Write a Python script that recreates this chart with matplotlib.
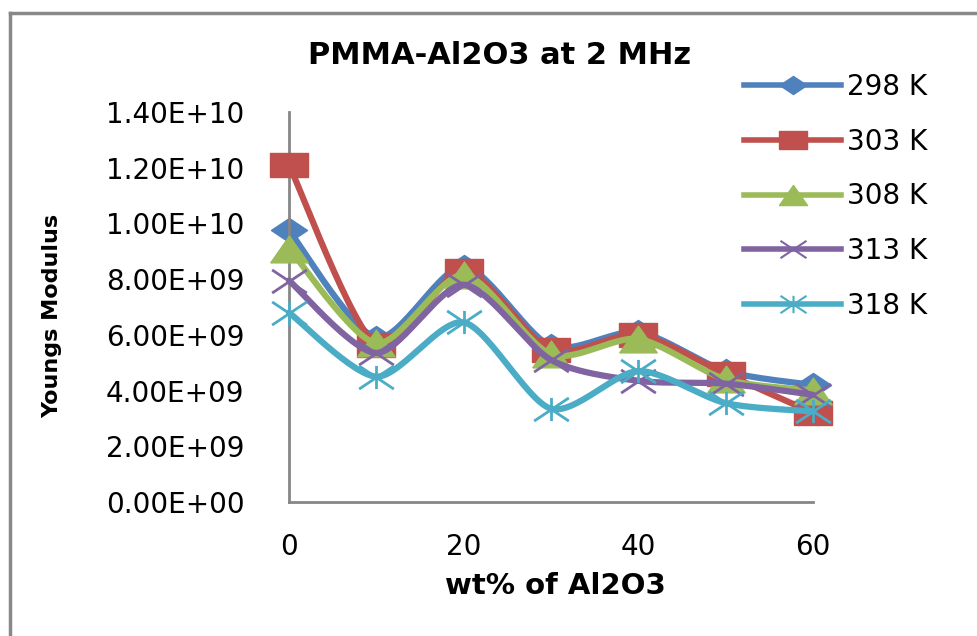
import numpy as np
import matplotlib
matplotlib.use('Agg')
import matplotlib.pyplot as plt
from matplotlib.lines import Line2D
from matplotlib.path import Path

# dados
wt = [0, 10, 20, 30, 40, 50, 60]
series_names = ['298 K', '303 K', '308 K', '313 K', '318 K']
y298 = [9.75e9, 5.9e9, 8.45e9, 5.6e9, 6.1e9, 4.7e9, 4.2e9]
y303 = [12.1e9, 5.65e9, 8.3e9, 5.45e9, 6.0e9, 4.6e9, 3.2e9]
y308 = [9.1e9, 5.7e9, 8.15e9, 5.3e9, 5.85e9, 4.4e9, 4.0e9]
y313 = [7.95e9, 5.35e9, 7.8e9, 5.1e9, 4.35e9, 4.25e9, 3.85e9]
y318 = [6.8e9, 4.5e9, 6.45e9, 3.35e9, 4.7e9, 3.55e9, 3.25e9]
yticks = [0, 2e9, 4e9, 6e9, 8e9, 1e10, 1.2e10, 1.4e10]
ytick_labels = ['0.00E+00', '2.00E+09', '4.00E+09', '6.00E+09', '8.00E+09',
                '1.00E+10', '1.20E+10', '1.40E+10']
xticks = [0, 20, 40, 60]

cores = ['#4F81BD', '#C0504D', '#9BBB59', '#8064A2', '#4BACC6']

# marcadores "esticados" como no Excel
M, L = Path.MOVETO, Path.LINETO
losango = [(-1.5, 0), (0, 1), (1.5, 0), (0, -1), (-1.5, 0)]
quadrado = [(-1.6, -1), (1.6, -1), (1.6, 1), (-1.6, 1), (-1.6, -1)]
triangulo = [(-1.4, -1), (1.4, -1), (0, 1), (-1.4, -1)]
xis = Path([(-1.5, -1), (1.5, 1), (-1.5, 1), (1.5, -1)], [M, L, M, L])
estrela = Path([(-1.5, -1), (1.5, 1), (-1.5, 1), (1.5, -1), (0, -1), (0, 1)],
               [M, L, M, L, M, L])
marcadores = [losango, quadrado, triangulo, xis, estrela]
tamanhos = [26, 27, 27, 25, 25]


def suavizar(x, y, n=30, k=7.5):
    # curva suave estilo Excel (bezier com pontos de controle catmull-rom)
    x = np.asarray(x, float)
    y = np.asarray(y, float)
    px = np.concatenate([[x[0]], x, [x[-1]]])
    py = np.concatenate([[y[0]], y, [y[-1]]])
    xs, ys = [], []
    t = np.linspace(0, 1, n)
    for i in range(1, len(px) - 2):
        p0 = np.array([px[i], py[i]])
        p3 = np.array([px[i + 1], py[i + 1]])
        p1 = p0 + (p3 - np.array([px[i - 1], py[i - 1]])) / k
        p2 = p3 - (np.array([px[i + 2], py[i + 2]]) - p0) / k
        b = ((1 - t) ** 3)[:, None] * p0 + (3 * (1 - t) ** 2 * t)[:, None] * p1 \
            + (3 * (1 - t) * t ** 2)[:, None] * p2 + (t ** 3)[:, None] * p3
        xs.extend(b[:, 0])
        ys.extend(b[:, 1])
    return xs, ys


fig = plt.figure(figsize=(9.77, 6.36), dpi=100)
ax = fig.add_axes([289 / 977, 1 - 502 / 636, (813 - 289) / 977, (502 - 112) / 636])

todos = [y298, y303, y308, y313, y318]
handles = []
for i, ys in enumerate(todos):
    sx, sy = suavizar(wt, ys)
    ax.plot(sx, sy, color=cores[i], lw=4.5, solid_capstyle='round', zorder=2 + i,
            clip_on=False)
    linha = i >= 3
    mew = 2.0 if linha else 1
    mfc = 'none' if linha else cores[i]
    ax.plot(wt, ys, ls='none', marker=marcadores[i], ms=tamanhos[i],
            mfc=mfc, mec=cores[i], mew=mew, zorder=2 + i, clip_on=False)
    handles.append(Line2D([], [], color=cores[i], lw=4, marker=marcadores[i],
                          ms=tamanhos[i] * 0.75, mfc=mfc, mec=cores[i],
                          mew=1.5 if linha else 1))

ax.set_xlim(0, 60)
ax.set_ylim(0, 1.4e10)
ax.set_xticks(xticks)
ax.set_xticklabels([str(v) for v in xticks], fontsize=20)
ax.set_yticks(yticks)
ax.set_yticklabels(ytick_labels, fontsize=20)
ax.tick_params(length=0)
ax.tick_params(axis='y', pad=32)
ax.tick_params(axis='x', pad=22)
for s in ['top', 'right']:
    ax.spines[s].set_visible(False)
for s in ['left', 'bottom']:
    ax.spines[s].set_color('#868686')
    ax.spines[s].set_linewidth(2)

fig.text(500 / 977, 1 - 56 / 636, 'PMMA-Al2O3 at 2 MHz', fontsize=22,
         fontweight='bold', ha='center', va='center')
fig.text(52 / 977, 1 - 316 / 636, 'Youngs Modulus', fontsize=16,
         fontweight='bold', rotation=90, ha='center', va='center')
fig.text(555 / 977, 1 - 586 / 636, 'wt% of Al2O3', fontsize=21,
         fontweight='bold', ha='center', va='center')

fig.legend(handles, series_names, loc='upper left',
           bbox_to_anchor=(719 / 977, 1 - 48 / 636), frameon=False,
           fontsize=20, handlelength=3.5, handletextpad=0.2, labelspacing=0.96)

# borda cinza do grafico
fig.add_artist(Line2D([10 / 977, 10 / 977], [0, 1 - 13 / 636], color='#888888', lw=2.5))
fig.add_artist(Line2D([10 / 977, 1], [1 - 13 / 636, 1 - 13 / 636], color='#888888', lw=2.5))

fig.savefig('out.png', dpi=100)
